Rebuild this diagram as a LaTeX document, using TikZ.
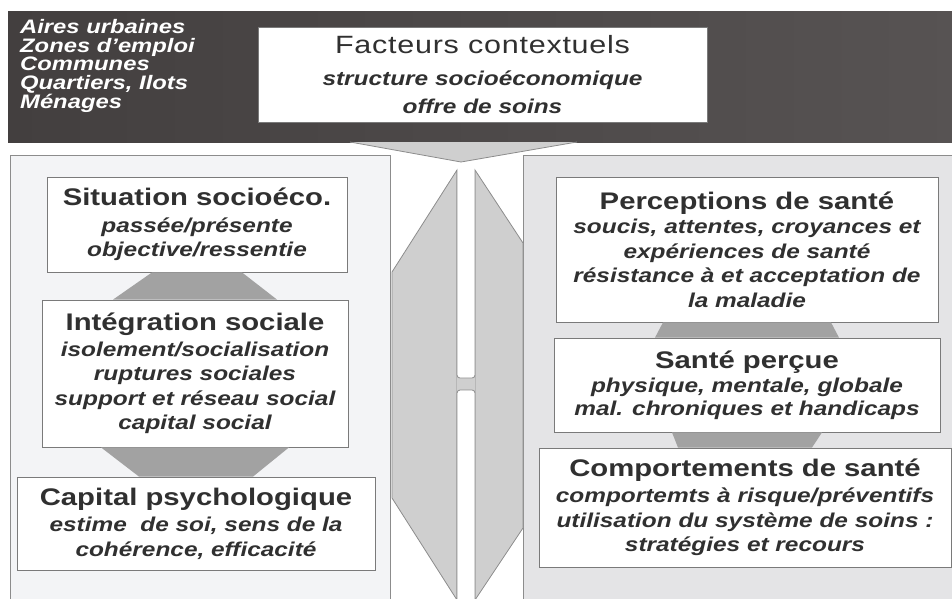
\documentclass[tikz,border=0pt]{standalone}
\usepackage{fontspec}
\setmainfont{Liberation Sans}[FakeStretch=1.22]
\newfontfamily\factfont{Liberation Sans}[FakeStretch=1.22,LetterSpace=3]

\definecolor{bandgray}{HTML}{433F3F}
\definecolor{bandgrayr}{HTML}{575353}
\definecolor{panelleft}{HTML}{F3F4F6}
\definecolor{panelright}{HTML}{E4E4E6}
\definecolor{panelline}{HTML}{8C8C8C}
\definecolor{boxline}{HTML}{7A7A7A}
\definecolor{linkgray}{HTML}{A2A2A2}
\definecolor{arrowgray}{HTML}{CFCFCF}
\definecolor{txt}{HTML}{303030}

\newcommand\subfont{\fontsize{20}{24.5}\selectfont\bfseries\itshape}
\newcommand\boxtitle[1]{{\upshape\fontsize{24}{26}\selectfont #1}}

\begin{document}
\begin{tikzpicture}[x=1pt,y=-1pt,
    panel/.style={draw=panelline, line width=0.8pt},
    infobox/.style={draw=boxline, fill=white, line width=0.8pt, inner sep=0pt,
        align=center, text=txt, font=\subfont},
    arrowpart/.style={draw=panelline, fill=arrowgray, line width=0.8pt},
    link/.style={fill=linkgray}]
                \useasboundingbox (0,0) rectangle (952,599);

                %%top band
                \shade[left color=bandgray, right color=bandgrayr]
                    (8,12) rectangle (960,142);
                \node[anchor=north west, inner sep=0pt, align=left, text=white,
                      font=\fontsize{19.5}{18.7}\selectfont\bfseries\itshape] (levels)
                    at (20,19) {Aires urbaines\\Zones d'emploi\\Communes\\Quartiers, Ilots\\Ménages};
                \node[infobox, minimum width=449pt, minimum height=95pt,
                      font=\fontsize{20}{28}\selectfont\bfseries\itshape] (facteurs)
                    at (482.5,74.5) {{\factfont\mdseries\upshape\fontsize{25}{28}\selectfont Facteurs contextuels}\\[4pt]
                    structure socioéconomique\\offre de soins};

                %%panels
                \draw[panel, fill=panelleft] (10,155) rectangle (390,610);
                \draw[panel, fill=panelright] (523,155) rectangle (960,610);

                %%funnel
                \fill[arrowgray] (350,142) -- (461,162) -- (577,142) -- cycle;
                \draw[draw=panelline, line width=0.8pt] (350,142) -- (461,162) -- (577,142);

                %%double arrow
                \filldraw[arrowpart] (457,170) -- (392,272) -- (392,498) -- (457,600) -- cycle;
                \filldraw[arrowpart] (475,170) -- (523,243) -- (523,528) -- (475,600) -- cycle;
                \fill[arrowgray] (457,370) rectangle (475,400);
                \filldraw[draw=panelline, fill=white, line width=0.8pt, rounded corners=3pt]
                    (457,170) -- (457,378) -- (475,378) -- (475,170);
                \filldraw[draw=panelline, fill=white, line width=0.8pt, rounded corners=3pt]
                    (457,610) -- (457,390) -- (475,390) -- (475,610);

                %%left part
                \node[infobox, minimum width=300pt, minimum height=95pt] (situation)
                    at (197,224.5) {\boxtitle{Situation socioéco.}\\[2pt]
                    passée/présente\\objective/ressentie};
                \node[infobox, minimum width=306pt, minimum height=147pt] (integration)
                    at (195,373.5) {\boxtitle{Intégration sociale}\\[1pt]
                    isolement/socialisation\\ruptures sociales\\support et réseau social\\capital social};
                \node[infobox, minimum width=358pt, minimum height=93pt] (capital)
                    at (196,523.5) {\boxtitle{Capital psychologique}\\[2pt]
                    estime~ de soi, sens de la\\cohérence, efficacité};
                \fill[link] ([xshift=-45]situation.south) -- ([xshift=45]situation.south)
                    -- ([xshift=82]integration.north) -- ([xshift=-82]integration.north) -- cycle;
                \fill[link] ([xshift=-94]integration.south) -- ([xshift=94]integration.south)
                    -- ([xshift=57]capital.north) -- ([xshift=-57]capital.north) -- cycle;

                %%right part
                \node[infobox, minimum width=382pt, minimum height=145pt] (perceptions)
                    at (747,249.5) {\boxtitle{Perceptions de santé}\\
                    soucis, attentes, croyances et\\expériences de santé\\résistance à et acceptation de\\la maladie};
                \node[infobox, minimum width=386pt, minimum height=94pt,
                      font=\fontsize{20}{23}\selectfont\bfseries\itshape] (sante)
                    at (747,385) {\boxtitle{Santé perçue}\\[1pt]
                    physique, mentale, globale\\mal. chroniques et handicaps};
                \node[infobox, minimum width=412pt, minimum height=119pt] (comportements)
                    at (745,507.5) {\boxtitle{Comportements de santé}\\[2pt]
                    comportemts à risque/préventifs\\utilisation du système de soins :\\stratégies et recours};
                \fill[link] ([xshift=-84]perceptions.south) -- ([xshift=84]perceptions.south)
                    -- ([xshift=92]sante.north) -- ([xshift=-92]sante.north) -- cycle;
                \fill[link] ([xshift=-75]sante.south) -- ([xshift=75]sante.south)
                    -- ([xshift=67]comportements.north) -- ([xshift=-67]comportements.north) -- cycle;
\end{tikzpicture}
\end{document}
